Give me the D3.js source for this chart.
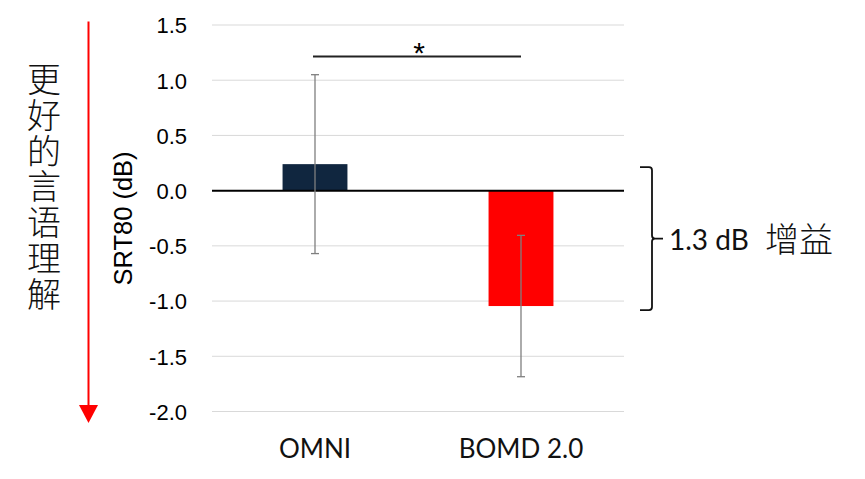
<!DOCTYPE html>
<html><head><meta charset="utf-8">
<script src="https://cdn.jsdelivr.net/npm/d3@7"></script>
<style>body{margin:0;background:#fff}svg{display:block}</style>
</head><body>
<svg id="c" width="865" height="479"></svg>
<script>
const categories = ["OMNI", "BOMD 2.0"];
const values = [0.24, -1.045];
const errors = [0.81, 0.64];
const barColors = ["#10263f", "#ff0000"];
const yTicks = [1.5, 1.0, 0.5, 0.0, -0.5, -1.0, -1.5, -2.0];
const yTitle = "SRT80 (dB)";
const sideLabel = "更好的言语理解";
const gainLabel = "1.3 dB";
const gainLabelCJK = "增益";
const sigLabel = "*";

const svg = d3.select("#c");
const left = 212, right = 624;
const y = d3.scaleLinear().domain([-2, 1.5]).range([411.5, 25]);
const x = d3.scalePoint().domain(categories).range([left, right]).padding(0.5);
const barW = x.step() * 0.315;

// gridlines
svg.append("g").selectAll("line").data(yTicks.filter(d => d !== 0)).join("line")
  .attr("x1", left).attr("x2", right)
  .attr("y1", d => y(d)).attr("y2", d => y(d))
  .attr("stroke", "#d9d9d9").attr("stroke-width", 1);

// y axis tick labels
const yAxis = d3.axisLeft(y).tickValues(yTicks).tickFormat(d3.format(".1f")).tickSize(0).tickPadding(0);
const gy = svg.append("g").attr("transform", "translate(187,0)").call(yAxis)
  .attr("font-size", 22).attr("font-family", "Liberation Sans, Arial, sans-serif");
gy.select(".domain").remove();
gy.selectAll("text").attr("fill", "#000").attr("dy", "0.36em")
  .text(d => d3.format(".1f")(d).replace("−", "-"));

// bars
svg.append("g").selectAll("rect").data(categories).join("rect")
  .attr("x", d => x(d) - barW / 2)
  .attr("width", barW)
  .attr("y", (d, i) => Math.min(y(values[i]), y(0)))
  .attr("height", (d, i) => Math.abs(y(values[i]) - y(0)))
  .attr("fill", (d, i) => barColors[i]);

// zero line
svg.append("line").attr("x1", left).attr("x2", right)
  .attr("y1", y(0)).attr("y2", y(0)).attr("stroke", "#000").attr("stroke-width", 2);

// error bars
const eg = svg.append("g").attr("stroke", "#7f7f7f").attr("stroke-width", 1.3);
categories.forEach((c, i) => {
  const cx = x(c), hi = y(values[i] + errors[i]), lo = y(values[i] - errors[i]);
  eg.append("line").attr("x1", cx).attr("x2", cx).attr("y1", hi).attr("y2", lo);
  eg.append("line").attr("x1", cx - 4).attr("x2", cx + 4).attr("y1", hi).attr("y2", hi);
  eg.append("line").attr("x1", cx - 4).attr("x2", cx + 4).attr("y1", lo).attr("y2", lo);
});

// category labels
svg.append("g").selectAll("text").data(categories).join("text")
  .attr("x", d => x(d)).attr("y", 458)
  .attr("text-anchor", "middle")
  .attr("font-family", "Lato, 'Open Sans', sans-serif").attr("font-size", 26)
  .attr("fill", "#111").text(d => d);

// significance bar
svg.append("line").attr("x1", x(categories[0]) - 2).attr("x2", x(categories[1]))
  .attr("y1", 56.5).attr("y2", 56.5).attr("stroke", "#222").attr("stroke-width", 2);
svg.append("text").attr("x", (x(categories[0]) + x(categories[1])) / 2 + 1).attr("y", 63)
  .attr("text-anchor", "middle").attr("font-family", "Liberation Sans, Arial, sans-serif")
  .attr("font-size", 30).attr("fill", "#000").text(sigLabel);

// y title
svg.append("text").attr("transform", "translate(131.5,218.5) rotate(-90)")
  .attr("text-anchor", "middle").attr("font-family", "Liberation Sans, Arial, sans-serif")
  .attr("font-size", 25.5).attr("fill", "#000").text(yTitle);

// red arrow
svg.append("line").attr("x1", 88.5).attr("x2", 88.5).attr("y1", 21.5).attr("y2", 406)
  .attr("stroke", "#ff0000").attr("stroke-width", 2);
svg.append("path").attr("d", "M79,405 L98,405 L88.5,423 Z").attr("fill", "#ff0000");

// vertical Chinese label (single text, vertical writing mode)
svg.append("text").attr("x", 44).attr("y", 62)
  .attr("font-family", "'Noto Sans CJK SC', sans-serif")
  .attr("font-size", 34).attr("font-weight", 300).attr("fill", "#111")
  .style("writing-mode", "vertical-rl").style("letter-spacing", "1.8px")
  .text(sideLabel);

// bracket
const bt = y(0) - 23.5, bb = y(values[1]) + 4, bm = (bt + bb) / 2;
svg.append("path")
  .attr("d", `M640,${bt} L649,${bt} Q652,${bt} 652,${bt + 3} L652,${bm - 3} Q652,${bm} 655,${bm} L663,${bm} M655,${bm} Q652,${bm} 652,${bm + 3} L652,${bb - 3} Q652,${bb} 649,${bb} L640,${bb}`)
  .attr("fill", "none").attr("stroke", "#111").attr("stroke-width", 1.8);

svg.append("text").attr("x", 669).attr("y", 250)
  .attr("font-family", "Lato, 'Open Sans', sans-serif").attr("font-size", 28)
  .attr("fill", "#111").text(gainLabel);
svg.append("text").attr("x", 765).attr("y", 252)
  .attr("font-family", "'Noto Sans CJK SC', sans-serif").attr("font-size", 34).attr("font-weight", 300)
  .attr("fill", "#111").text(gainLabelCJK);
</script>
</body></html>
